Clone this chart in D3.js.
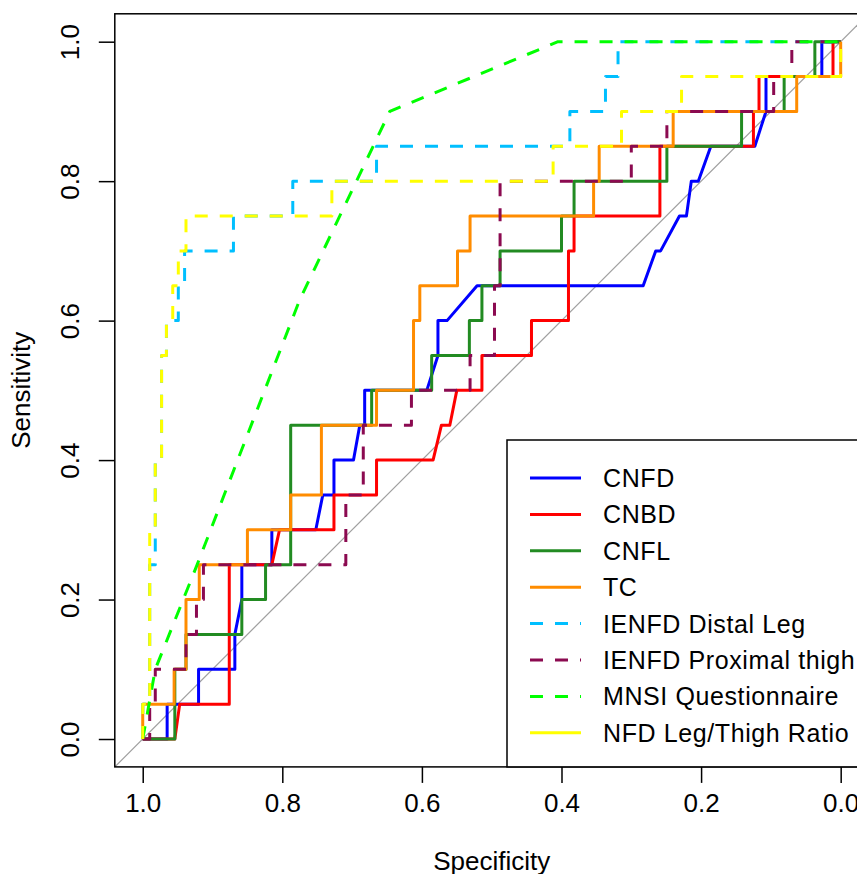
<!DOCTYPE html>
<html>
<head>
<meta charset="utf-8">
<script src="https://cdn.jsdelivr.net/npm/d3@7"></script>
<style>
  body { margin: 0; background: #fff; }
  svg { font-family: "Liberation Sans", Arial, sans-serif; }
</style>
</head>
<body>
<svg id="chart" width="857" height="874"></svg>
<script>
// ROC curves, [specificity, sensitivity]
const cnfd = [[1,0],[0.965,0],[0.965,0.05],[0.920,0.05],[0.920,0.1],[0.868,0.1],[0.868,0.15],[0.858,0.2],[0.858,0.25],[0.815,0.25],[0.815,0.3],[0.752,0.3],[0.742,0.35],[0.726,0.35],[0.726,0.4],[0.698,0.4],[0.689,0.45],[0.682,0.45],[0.682,0.5],[0.593,0.5],[0.577,0.55],[0.577,0.6],[0.564,0.6],[0.521,0.65],[0.283,0.65],[0.265,0.7],[0.258,0.7],[0.231,0.75],[0.221,0.75],[0.214,0.8],[0.204,0.8],[0.186,0.85],[0.123,0.85],[0.107,0.9],[0.107,0.95],[0.027,0.95],[0.027,1],[0,1]];
const cnbd = [[1,0],[0.954,0],[0.947,0.05],[0.876,0.05],[0.876,0.25],[0.815,0.25],[0.804,0.3],[0.726,0.3],[0.726,0.35],[0.665,0.35],[0.665,0.4],[0.584,0.4],[0.572,0.45],[0.560,0.45],[0.550,0.5],[0.514,0.5],[0.514,0.55],[0.443,0.55],[0.443,0.6],[0.390,0.6],[0.390,0.7],[0.382,0.7],[0.382,0.75],[0.259,0.75],[0.259,0.85],[0.125,0.85],[0.125,0.9],[0.117,0.9],[0.117,0.95],[0.011,0.95],[0.011,1],[0,1]];
const cnfl = [[1,0],[0.954,0],[0.954,0.1],[0.938,0.1],[0.938,0.15],[0.858,0.15],[0.858,0.2],[0.824,0.2],[0.824,0.25],[0.788,0.25],[0.788,0.45],[0.672,0.45],[0.672,0.5],[0.586,0.5],[0.586,0.55],[0.532,0.55],[0.532,0.6],[0.514,0.6],[0.514,0.65],[0.488,0.65],[0.488,0.7],[0.400,0.7],[0.400,0.75],[0.382,0.75],[0.382,0.8],[0.249,0.8],[0.249,0.85],[0.142,0.85],[0.142,0.9],[0.081,0.9],[0.081,0.95],[0.037,0.95],[0.037,1],[0,1]];
const tc = [[1,0],[1,0.05],[0.955,0.05],[0.955,0.1],[0.938,0.1],[0.938,0.2],[0.919,0.2],[0.919,0.25],[0.850,0.25],[0.850,0.3],[0.788,0.3],[0.788,0.35],[0.744,0.35],[0.744,0.45],[0.665,0.45],[0.665,0.5],[0.612,0.5],[0.612,0.6],[0.603,0.6],[0.603,0.65],[0.549,0.65],[0.549,0.7],[0.531,0.7],[0.531,0.75],[0.354,0.75],[0.354,0.8],[0.346,0.8],[0.346,0.85],[0.240,0.85],[0.240,0.9],[0.063,0.9],[0.063,0.95],[0,0.95],[0,1]];
const ienfdDistal = [[1,0],[1,0.05],[0.990,0.05],[0.990,0.25],[0.982,0.25],[0.982,0.4],[0.973,0.4],[0.973,0.55],[0.966,0.55],[0.966,0.6],[0.949,0.6],[0.949,0.65],[0.940,0.65],[0.940,0.7],[0.870,0.7],[0.870,0.75],[0.785,0.75],[0.785,0.8],[0.665,0.8],[0.665,0.85],[0.388,0.85],[0.388,0.9],[0.337,0.9],[0.337,0.95],[0.319,0.95],[0.319,1],[0,1]];
const ienfdProximal = [[1,0],[0.990,0],[0.990,0.05],[0.982,0.05],[0.982,0.1],[0.938,0.1],[0.938,0.15],[0.923,0.15],[0.923,0.2],[0.913,0.2],[0.913,0.25],[0.709,0.25],[0.709,0.35],[0.684,0.35],[0.684,0.45],[0.615,0.45],[0.615,0.5],[0.531,0.5],[0.531,0.55],[0.496,0.55],[0.496,0.65],[0.488,0.65],[0.488,0.8],[0.300,0.8],[0.300,0.85],[0.249,0.85],[0.249,0.9],[0.096,0.9],[0.096,0.95],[0.070,0.95],[0.070,1],[0,1]];
const mnsi = [[1,0],[0.982,0.1],[0.922,0.25],[0.775,0.63],[0.646,0.9],[0.405,1],[0,1]];
const nfdRatio = [[1,0],[1,0.05],[0.990,0.05],[0.990,0.3],[0.982,0.3],[0.982,0.4],[0.973,0.4],[0.973,0.55],[0.966,0.55],[0.966,0.6],[0.957,0.6],[0.957,0.65],[0.949,0.65],[0.949,0.7],[0.938,0.7],[0.938,0.75],[0.729,0.75],[0.729,0.8],[0.412,0.8],[0.412,0.85],[0.314,0.85],[0.314,0.9],[0.228,0.9],[0.228,0.95],[0,0.95],[0,1]];

const seriesNames = ['CNFD', 'CNBD', 'CNFL', 'TC', 'IENFD Distal Leg', 'IENFD Proximal thigh', 'MNSI Questionnaire', 'NFD Leg/Thigh Ratio'];
const seriesData = [cnfd, cnbd, cnfl, tc, ienfdDistal, ienfdProximal, mnsi, nfdRatio];
const seriesColors = ['#0000ff', '#ff0000', '#228b22', '#ff8c00', '#00bfff', '#8b0a50', '#00ff00', '#ffff00'];
const seriesDashed = [false, false, false, false, true, true, true, true];
const ticks = [0, 0.2, 0.4, 0.6, 0.8, 1.0];

const svg = d3.select('#chart');

const plot = {left: 114.8, right: 868.6, top: 13.8, bottom: 766.9};

const x = d3.scaleLinear()
  .domain([1.04, -0.04])
  .range([plot.left, plot.right]);

const y = d3.scaleLinear()
  .domain([-0.04, 1.04])
  .range([plot.bottom, plot.top]);

svg.append('defs').append('clipPath')
    .attr('id', 'clip')
  .append('rect')
    .attr('x', plot.left)
    .attr('y', plot.top)
    .attr('width', plot.right - plot.left)
    .attr('height', plot.bottom - plot.top);

const g = svg.append('g').attr('clip-path', 'url(#clip)');

// chance line
g.append('line')
  .attr('x1', x(1.04)).attr('y1', y(-0.04))
  .attr('x2', x(-0.04)).attr('y2', y(1.04))
  .attr('stroke', '#a0a0a0')
  .attr('stroke-width', 1.2);

const line = d3.line()
  .x(d => x(d[0]))
  .y(d => y(d[1]));

g.selectAll('path.roc')
    .data(seriesData)
  .join('path')
    .attr('class', 'roc')
    .attr('d', d => line(d))
    .attr('fill', 'none')
    .attr('stroke', (d, i) => seriesColors[i])
    .attr('stroke-width', 3)
    .attr('stroke-linejoin', 'round')
    .attr('stroke-dasharray', (d, i) => seriesDashed[i] ? '13,12' : null);

// axes
const xAxis = svg.append('g')
  .attr('transform', `translate(0, ${plot.bottom})`)
  .call(d3.axisBottom(x).tickValues(ticks).tickFormat(d3.format('.1f')).tickSize(16).tickPadding(11));

const yAxis = svg.append('g')
  .attr('transform', `translate(${plot.left}, 0)`)
  .call(d3.axisLeft(y).tickValues(ticks).tickFormat(d3.format('.1f')).tickSize(16).tickPadding(10));

[xAxis, yAxis].forEach(a => {
  a.select('.domain').remove();
  a.selectAll('line').attr('stroke', '#000').attr('stroke-width', 1.5);
  a.selectAll('text').attr('font-size', 26).attr('fill', '#000')
    .attr('font-family', '"Liberation Sans", Arial, sans-serif');
});

yAxis.selectAll('text')
  .attr('text-anchor', 'middle')
  .attr('dy', null)
  .attr('x', null)
  .attr('transform', 'translate(-45, 0) rotate(-90)')
  .attr('dominant-baseline', 'central');

// box
svg.append('rect')
  .attr('x', plot.left).attr('y', plot.top)
  .attr('width', plot.right - plot.left)
  .attr('height', plot.bottom - plot.top)
  .attr('fill', 'none')
  .attr('stroke', '#000')
  .attr('stroke-width', 1.5);

svg.append('text')
  .attr('x', (plot.left + plot.right) / 2)
  .attr('y', 870)
  .attr('text-anchor', 'middle')
  .attr('font-size', 26)
  .text('Specificity');

svg.append('text')
  .attr('transform', `translate(30, ${(plot.top + plot.bottom) / 2}) rotate(-90)`)
  .attr('text-anchor', 'middle')
  .attr('font-size', 26)
  .text('Sensitivity');

// legend
const legend = svg.append('g');
legend.append('rect')
  .attr('x', 507).attr('y', 440)
  .attr('width', plot.right - 507)
  .attr('height', plot.bottom - 440)
  .attr('fill', '#fff')
  .attr('stroke', '#000')
  .attr('stroke-width', 1.5);

const item = legend.selectAll('g.item')
    .data(seriesNames)
  .join('g')
    .attr('class', 'item')
    .attr('transform', (d, i) => `translate(0, ${478 + i * 36.4})`);

item.append('line')
  .attr('x1', 530).attr('x2', 581)
  .attr('stroke', (d, i) => seriesColors[i])
  .attr('stroke-width', 3)
  .attr('stroke-dasharray', (d, i) => seriesDashed[i] && i < 7 ? '13,12' : null);

item.append('text')
  .attr('x', 603)
  .attr('dominant-baseline', 'central')
  .attr('font-size', 25)
  .attr('letter-spacing', 0.6)
  .text(d => d);
</script>
</body>
</html>
